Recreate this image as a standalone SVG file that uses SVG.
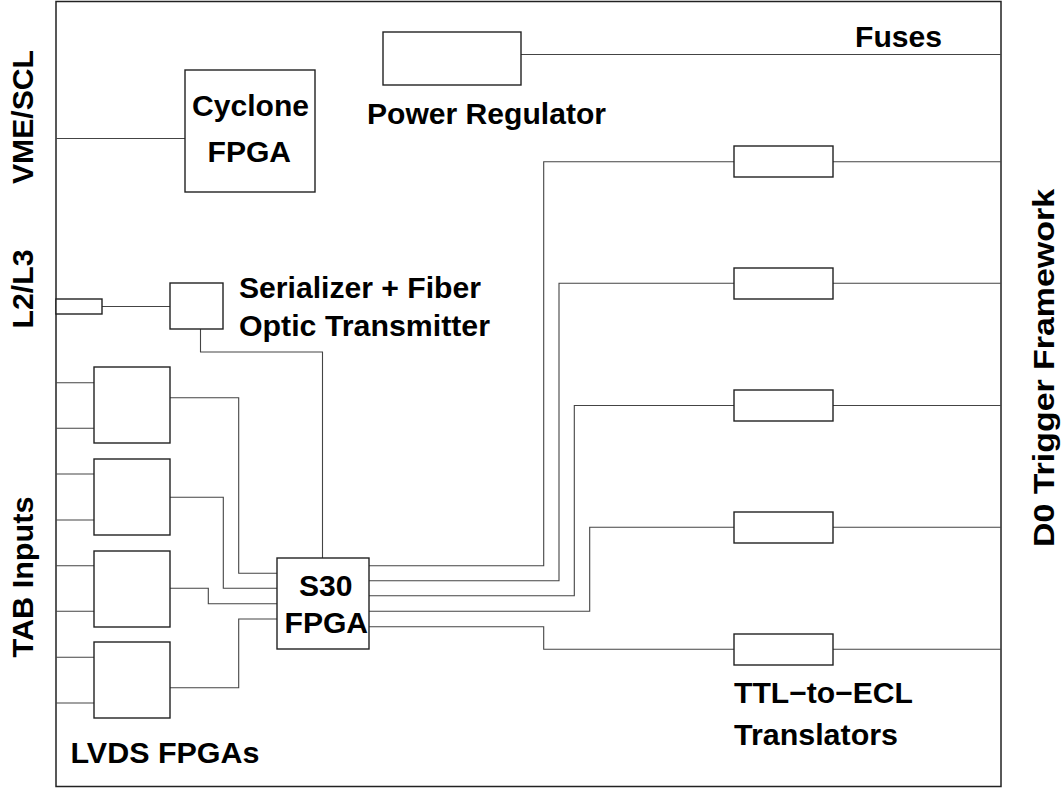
<svg xmlns="http://www.w3.org/2000/svg" width="1062" height="788" viewBox="0 0 1062 788">
<style>
.frame{fill:none;stroke:#222;stroke-width:1.5}
.box{fill:#fff;stroke:#222;stroke-width:1.4}
.wire{fill:none;stroke:#444;stroke-width:1.1}
text{font-family:"Liberation Sans",Arial,Helvetica,sans-serif;font-weight:bold;font-size:29px;fill:#000}
</style>
<rect width="1062" height="788" fill="#fff"/>
<rect id="board" class="frame" x="56" y="1.5" width="945" height="785"/>
<g id="connectors">
<path class="wire" d="M56,138.5H185"/>
<path class="wire" d="M521,54.5H1001"/>
<path class="wire" d="M102,306.5H170"/>
<path class="wire" d="M200.5,329V352H322.5V558"/>
<path class="wire" d="M56,382.7H94M56,428.3H94"/>
<path class="wire" d="M56,474H94M56,520H94"/>
<path class="wire" d="M56,565.7H94M56,611.3H94"/>
<path class="wire" d="M56,657.3H94M56,703H94"/>
<path class="wire" d="M170,397.7H238.7V573.3H277"/>
<path class="wire" d="M170,497.3H223.3V588.3H277"/>
<path class="wire" d="M170,588.3H208.3V603.7H277"/>
<path class="wire" d="M170,687.7H238.7V619H277"/>
<path class="wire" d="M369,565.7H543.7V161.7H734"/>
<path class="wire" d="M369,580.7H559V283.3H734"/>
<path class="wire" d="M369,595.7H574.3V405.5H734"/>
<path class="wire" d="M369,611.3H589.7V527.3H734"/>
<path class="wire" d="M369,626.7H543.7V649.3H734"/>
<path class="wire" d="M833,161.7H1001M833,283.3H1001M833,405.5H1001M833,527.3H1001M833,649.3H1001"/>
</g>
<g id="cyclone">
<rect class="box" x="185" y="70" width="130" height="122"/>
<text x="192" y="116" textLength="117" lengthAdjust="spacingAndGlyphs">Cyclone</text>
<text x="207.5" y="162" textLength="83.6" lengthAdjust="spacingAndGlyphs">FPGA</text>
</g>
<g id="power-regulator">
<rect class="box" x="383" y="32" width="138" height="53"/>
<text x="367" y="124" textLength="239" lengthAdjust="spacingAndGlyphs">Power Regulator</text>
</g>
<g id="fuses">
<text x="855" y="47" textLength="87" lengthAdjust="spacingAndGlyphs">Fuses</text>
</g>
<g id="l2l3-connector">
<rect class="box" x="56" y="299" width="46" height="15"/>
</g>
<g id="serializer">
<rect class="box" x="170" y="283" width="53" height="46"/>
<text x="239" y="298" textLength="242" lengthAdjust="spacingAndGlyphs">Serializer + Fiber</text>
<text x="239" y="336" textLength="251" lengthAdjust="spacingAndGlyphs">Optic Transmitter</text>
</g>
<g id="lvds-fpgas">
<rect class="box" x="94" y="367" width="76" height="76"/>
<rect class="box" x="94" y="459" width="76" height="76"/>
<rect class="box" x="94" y="551" width="76" height="76"/>
<rect class="box" x="94" y="642" width="76" height="76"/>
<text x="70.5" y="763" textLength="189" lengthAdjust="spacingAndGlyphs">LVDS FPGAs</text>
</g>
<g id="s30-fpga">
<rect class="box" x="277" y="558" width="92" height="91"/>
<text x="299" y="596" textLength="53.5" lengthAdjust="spacingAndGlyphs">S30</text>
<text x="284.5" y="633" textLength="83.6" lengthAdjust="spacingAndGlyphs">FPGA</text>
</g>
<g id="ttl-ecl-translators">
<rect class="box" x="734" y="146" width="99" height="31"/>
<rect class="box" x="734" y="268" width="99" height="31"/>
<rect class="box" x="734" y="390" width="99" height="31"/>
<rect class="box" x="734" y="512" width="99" height="31"/>
<rect class="box" x="734" y="634" width="99" height="31"/>
<text x="734" y="703" textLength="179" lengthAdjust="spacingAndGlyphs">TTL−to−ECL</text>
<text x="734" y="745" textLength="164" lengthAdjust="spacingAndGlyphs">Translators</text>
</g>
<g id="side-labels">
<text transform="translate(33.3,184) rotate(-90)" textLength="134" lengthAdjust="spacingAndGlyphs">VME/SCL</text>
<text transform="translate(33.3,328.5) rotate(-90)" textLength="79" lengthAdjust="spacingAndGlyphs">L2/L3</text>
<text transform="translate(33.3,657.5) rotate(-90)" textLength="161" lengthAdjust="spacingAndGlyphs">TAB Inputs</text>
<text transform="translate(1053.5,547) rotate(-90)" textLength="358" lengthAdjust="spacingAndGlyphs">D0 Trigger Framework</text>
</g>
</svg>
